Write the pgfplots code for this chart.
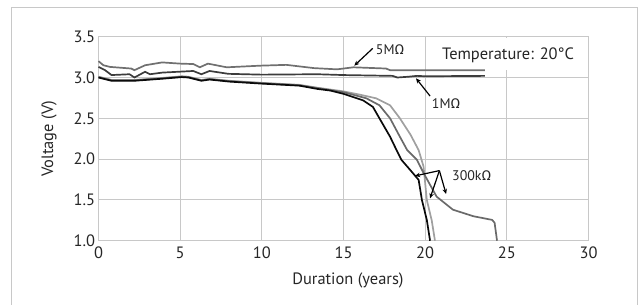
\documentclass[border=0pt]{standalone}
\usepackage{pgfplots}
\pgfplotsset{compat=1.18}
\usetikzlibrary{arrows.meta}
\usepackage{fontspec}
\setmainfont{PT Sans}
\newfontfamily\grk{Fira Sans}
\newcommand{\Ohm}{{\grk Ω}}
\definecolor{gridc}{HTML}{C8C8C8}
\definecolor{c5m}{HTML}{707070}
\definecolor{c1m}{HTML}{3C3C3C}
\definecolor{cblk}{HTML}{0A0A0A}
\definecolor{cmed}{HTML}{6A6A6A}
\definecolor{clgt}{HTML}{A0A0A0}
\begin{document}
\begin{tikzpicture}[x=1bp,y=1bp]
\useasboundingbox (-98.5,-63.3) rectangle (540.5,240.7);
\draw[color=gridc, line width=1bp] (-86.5,-70) -- (-86.5,233.7) -- (538.5,233.7) -- (538.5,-70);
\begin{axis}[at={(0,0)}, anchor=south west, scale only axis,
  width=490bp, height=204bp,
  xmin=0, xmax=30, ymin=1, ymax=3.5,
  xtick={0,5,...,30}, ytick={1,1.5,...,3.5},
  grid=major, grid style={color=gridc, line width=1bp},
  axis line style={color=gridc, line width=1bp},
  major tick length=0pt,
  yticklabel style={/pgf/number format/.cd, fixed, fixed zerofill, precision=1},
  xticklabel style={yshift=-3bp},
  /pgf/number format/assume math mode=true,
  ticklabel style={font=\fontsize{16.5}{19}\selectfont, color=black!85},
  label style={font=\fontsize{16.5}{19}\selectfont, color=black!85},
  xlabel={Duration (years)}, ylabel={Voltage (V)},
  xlabel style={at={(axis description cs:0.509,-0.193)}, anchor=center},
  ylabel style={at={(axis description cs:-0.101,0.5)}, anchor=center},
  clip=false,
]
\fill[white] (axis cs:20.12,3.09) rectangle (axis cs:29.93,3.49);
\addplot[c5m, line width=1.7bp] coordinates {(0,3.20)(0.3,3.15)(0.7,3.13)(2.0,3.11)(2.2,3.09)(2.85,3.15)(3.9,3.185)(5.0,3.17)(5.8,3.165)(6.2,3.125)(6.7,3.17)(7.85,3.125)(9.9,3.145)(11.5,3.155)(13.2,3.115)(14.6,3.10)(15.6,3.125)(17.6,3.11)(17.85,3.09)(23.65,3.09)};
\addplot[c1m, line width=1.7bp] coordinates {(0,3.13)(0.4,3.09)(0.8,3.03)(1.9,3.04)(2.2,3.0)(2.85,3.07)(3.15,3.04)(3.9,3.06)(5.8,3.08)(6.3,3.04)(6.8,3.08)(7.95,3.045)(10,3.035)(13.4,3.04)(15,3.03)(18.0,3.02)(18.3,3.00)(19.0,3.01)(19.5,3.02)(20,3.015)(23.65,3.02)};
\addplot[clgt, line width=1.7bp] coordinates {(0,3.01)(0.8,2.97)(2.2,2.97)(3.9,2.995)(5.1,3.015)(5.5,3.01)(6.3,2.97)(6.8,2.985)(8,2.96)(10,2.935)(12.3,2.91)(13.4,2.875)(15,2.83)(16.0,2.79)(17.0,2.745)(17.85,2.66)(18.45,2.50)(19.1,2.30)(19.6,2.11)(19.9,1.91)(20.1,1.5)(20.4,1.25)(20.6,1.0)};
\addplot[cmed, line width=1.7bp] coordinates {(0,3.005)(0.8,2.965)(2.2,2.965)(3.9,2.99)(5.1,3.01)(5.5,3.005)(6.3,2.965)(6.8,2.98)(8,2.955)(10,2.93)(12.3,2.905)(13.4,2.87)(15,2.82)(16.4,2.745)(17.2,2.66)(17.85,2.50)(18.45,2.275)(18.9,2.11)(19.5,1.99)(19.9,1.83)(20.7,1.54)(21.7,1.38)(22.95,1.30)(24.1,1.255)(24.25,1.22)(24.4,1.0)};
\addplot[cblk, line width=1.7bp] coordinates {(0,3.0)(0.8,2.96)(2.2,2.96)(3.9,2.985)(5.1,3.005)(5.5,3.0)(6.3,2.96)(6.8,2.975)(8,2.95)(10,2.925)(12.3,2.9)(13.4,2.86)(14.2,2.84)(15,2.80)(16.2,2.72)(16.8,2.64)(17.2,2.50)(17.85,2.275)(18.2,2.13)(18.55,1.99)(19.07,1.87)(19.6,1.745)(19.8,1.5)(20.1,1.255)(20.3,1.0)};
\node[font=\fontsize{16.5}{19}\selectfont, color=black!85] at (axis cs:25.08,3.275) {Temperature: 20°C};
\node[font=\fontsize{14}{16}\selectfont, color=black!85] at (axis cs:17.85,3.336) {5M\Ohm};
\node[font=\fontsize{14}{16}\selectfont, color=black!85] at (axis cs:21.28,2.686) {1M\Ohm};
\node[font=\fontsize{14}{16}\selectfont, color=black!85] at (axis cs:22.85,1.796) {300k\Ohm};
\draw[line width=1.2bp, -{Stealth[length=5bp,width=4.5bp]}] (axis cs:16.79,3.357) -- (axis cs:15.66,3.145);
\draw[line width=1.2bp, -{Stealth[length=5bp,width=4.5bp]}] (axis cs:20.3,2.773) -- (axis cs:19.44,2.99);
\draw[line width=1.2bp, -{Stealth[length=5bp,width=4.5bp]}] (axis cs:20.87,1.859) -- (axis cs:19.38,1.794);
\draw[line width=1.2bp, -{Stealth[length=5bp,width=4.5bp]}] (axis cs:20.87,1.859) -- (axis cs:20.3,1.52);
\draw[line width=1.2bp, -{Stealth[length=5bp,width=4.5bp]}] (axis cs:20.87,1.859) -- (axis cs:21.28,1.573);
\end{axis}
\end{tikzpicture}
\end{document}
